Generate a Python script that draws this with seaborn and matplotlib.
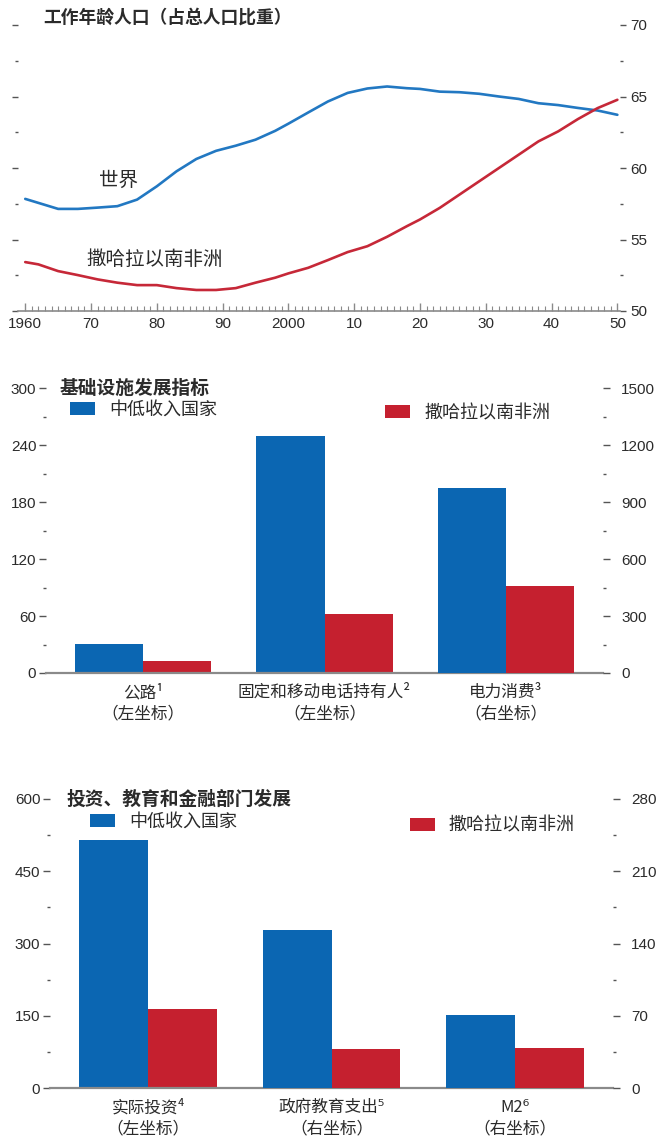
import numpy as np
import pandas as pd
import matplotlib
matplotlib.use("Agg")
import matplotlib.pyplot as plt
import seaborn as sns
from matplotlib import font_manager as fm
from matplotlib.patches import Patch
from matplotlib.ticker import FixedLocator
import matplotlib.transforms as mtransforms

# ---------------- data ----------------
years = [1960, 1962, 1965, 1968, 1971, 1974, 1977, 1980, 1983, 1986, 1989, 1992,
         1995, 1998, 2000, 2003, 2006, 2009, 2012, 2015, 2018, 2020, 2023, 2026,
         2029, 2032, 2035, 2038, 2041, 2044, 2047, 2050]
world = [57.84, 57.56, 57.14, 57.14, 57.23, 57.33, 57.79, 58.72, 59.77, 60.63, 61.2, 61.56,
         61.98, 62.6, 63.1, 63.88, 64.65, 65.25, 65.56, 65.7, 65.58, 65.53, 65.34, 65.3,
         65.19, 65.0, 64.83, 64.53, 64.4, 64.2, 64.02, 63.72]
ssa = [53.42, 53.26, 52.79, 52.51, 52.21, 51.98, 51.81, 51.81, 51.6, 51.47, 51.47, 51.6,
       51.98, 52.33, 52.63, 53.02, 53.56, 54.12, 54.53, 55.19, 55.93, 56.4, 57.21, 58.14,
       59.07, 60.0, 60.93, 61.86, 62.56, 63.42, 64.19, 64.77]
series_names = ["世界", "撒哈拉以南非洲"]
year_ticks = [1960, 1970, 1980, 1990, 2000, 2010, 2020, 2030, 2040, 2050]
year_labels = ["1960", "70", "80", "90", "2000", "10", "20", "30", "40", "50"]

groups = ["中低收入国家", "撒哈拉以南非洲"]

infra_cats = ["公路¹\n（左坐标）", "固定和移动电话持有人²\n（左坐标）", "电力消费³\n（右坐标）"]
infra_lmic = [30.5, 250, 974]
infra_ssa = [12.6, 62, 456]
infra_side = ["left", "left", "right"]

fin_cats = ["实际投资⁴\n（左坐标）", "政府教育支出⁵\n（右坐标）", "M2⁶\n（右坐标）"]
fin_lmic = [515, 153, 70.7]
fin_ssa = [165, 38, 39]
fin_side = ["left", "right", "right"]

# ---------------- style ----------------
sns.set_theme(style="white")
CJK = "Noto Sans CJK SC"


def has_font(name):
    try:
        fm.findfont(fm.FontProperties(family=name), fallback_to_default=False)
        return True
    except Exception:
        return False


NUM = "Liberation Sans Narrow" if has_font("Liberation Sans Narrow") else "Liberation Sans"
plt.rcParams["font.family"] = [CJK, "DejaVu Sans"]
plt.rcParams["axes.unicode_minus"] = False

BLUE = "#0b66b2"
RED = "#c5202f"
LBLUE = "#2278c2"
LRED = "#c62838"
TXT = "#2b2b2b"
TICK = "#555555"
AXL = "#8a8a8a"

fig = plt.figure(figsize=(6.62, 11.42), dpi=100)
W, H = 662.0, 1142.0


def rect(l, r, b, t):
    return [l / W, 1 - b / H, (r - l) / W, (b - t) / H]


# ---------------- top panel: lines ----------------
ax1 = fig.add_axes(rect(18, 620, 311, 25))
df_line = pd.DataFrame({
    "year": years * 2,
    "value": world + ssa,
    "series": [series_names[0]] * len(years) + [series_names[1]] * len(years),
})
sns.lineplot(data=df_line, x="year", y="value", hue="series",
             palette={series_names[0]: LBLUE, series_names[1]: LRED},
             linewidth=1.9, legend=False, ax=ax1)
ax1.set_xlim(1958.9, 2050.4)
ax1.set_ylim(50, 70)
ax1.set_xlabel("")
ax1.set_ylabel("")
for s in ["top", "left", "right"]:
    ax1.spines[s].set_visible(False)
ax1.spines["bottom"].set_color(AXL)
ax1.spines["bottom"].set_linewidth(1.2)
ax1.set_xticks(year_ticks)
ax1.set_xticklabels(year_labels, fontfamily=NUM)
ax1.xaxis.set_minor_locator(FixedLocator(list(range(1960, 2051))))
ax1.tick_params(axis="x", which="major", direction="in", length=6, width=1, color=AXL,
                bottom=True, labelsize=11, labelcolor=TXT, pad=4)
ax1.tick_params(axis="x", which="minor", direction="in", length=3.5, width=0.8, color=AXL, bottom=True)
ax1.set_yticks([50, 55, 60, 65, 70])
ax1.set_yticklabels(["50", "55", "60", "65", "70"], fontfamily=NUM)
ax1.yaxis.set_minor_locator(FixedLocator([52.5, 57.5, 62.5, 67.5]))
ax1.tick_params(axis="y", which="both", left=True, right=True, labelleft=False, labelright=True,
                direction="out", color=TICK)
ax1.tick_params(axis="y", which="major", length=4.5, width=1, labelsize=11, labelcolor=TXT, pad=3)
ax1.tick_params(axis="y", which="minor", length=2, width=1)
ax1.text(1974.2, 59.15, series_names[0], ha="center", va="center", fontsize=14, color=TXT)
ax1.text(1979.6, 53.57, series_names[1], ha="center", va="center", fontsize=14, color=TXT)
fig.text(43 / W, 1 - 18 / H, "工作年龄人口（占总人口比重）", fontsize=12.8, fontweight="bold",
         ha="left", va="center", color=TXT)


# ---------------- bar panels ----------------
def bar_panel(box, cats, lmic, ssa_v, sides, lticks, lminor, rticks, rminor, title, title_x,
              leg_blue, leg_red):
    ax = fig.add_axes(box)
    axr = ax.twinx()
    df = pd.DataFrame({
        "cat": cats * 2,
        "grp": [groups[0]] * 3 + [groups[1]] * 3,
        "val": lmic + ssa_v,
        "side": sides * 2,
    })
    pal = {groups[0]: BLUE, groups[1]: RED}
    sns.barplot(data=df[df["side"] == "left"], x="cat", y="val", hue="grp", order=cats,
                hue_order=groups, palette=pal, width=0.75, errorbar=None, saturation=1,
                legend=False, linewidth=0, ax=ax)
    sns.barplot(data=df[df["side"] == "right"], x="cat", y="val", hue="grp", order=cats,
                hue_order=groups, palette=pal, width=0.75, errorbar=None, saturation=1,
                legend=False, linewidth=0, ax=axr)
    for a in (ax, axr):
        a.set_xlim(-0.534, 2.534)
        a.set_xlabel("")
        a.set_ylabel("")
        for s in ["top", "left", "right", "bottom"]:
            a.spines[s].set_visible(False)
    ax.spines["bottom"].set_visible(True)
    ax.spines["bottom"].set_color(AXL)
    ax.spines["bottom"].set_linewidth(1.6)
    ax.set_ylim(lticks[0], lticks[-1])
    axr.set_ylim(rticks[0], rticks[-1])
    ax.set_yticks(lticks)
    ax.set_yticklabels([str(v) for v in lticks], fontfamily=NUM)
    ax.yaxis.set_minor_locator(FixedLocator(lminor))
    axr.set_yticks(rticks)
    axr.set_yticklabels([str(v) for v in rticks], fontfamily=NUM)
    axr.yaxis.set_minor_locator(FixedLocator(rminor))
    for a in (ax, axr):
        a.tick_params(axis="y", which="major", direction="out", length=5, width=1, color=TICK,
                      labelsize=11, labelcolor=TXT, pad=2)
        a.tick_params(axis="y", which="minor", direction="out", length=2, width=1, color=TICK)
    ax.tick_params(axis="y", which="both", left=True, right=False)
    axr.tick_params(axis="y", which="both", left=False, right=True, pad=8)
    ax.set_xticks([0, 1, 2])
    ax.set_xticklabels(cats, fontsize=12, color=TXT, linespacing=1.3)
    ax.tick_params(axis="x", length=0, pad=8)
    trans = mtransforms.blended_transform_factory(fig.transFigure, ax.transData)
    ax.text(title_x / W, lticks[-1], title, transform=trans, fontsize=13.5, fontweight="bold",
            ha="left", va="center", color=TXT)
    kw = dict(frameon=False, fontsize=13, handlelength=1.4, handleheight=0.7,
              handletextpad=0.75, borderpad=0, borderaxespad=0, loc="center left",
              labelcolor=TXT)
    lg1 = axr.legend(handles=[Patch(facecolor=BLUE, edgecolor="none", label=groups[0])],
                     bbox_to_anchor=leg_blue, bbox_transform=ax.transAxes, **kw)
    axr.add_artist(lg1)
    axr.legend(handles=[Patch(facecolor=RED, edgecolor="none", label=groups[1])],
               bbox_to_anchor=leg_red, bbox_transform=ax.transAxes, **kw)
    return ax, axr


bar_panel(rect(46, 603, 673, 388), infra_cats, infra_lmic, infra_ssa, infra_side,
          [0, 60, 120, 180, 240, 300], [30, 90, 150, 210, 270],
          [0, 300, 600, 900, 1200, 1500], [150, 450, 750, 1050, 1350],
          "基础设施发展指标", 60, (0.043, 0.923), (0.609, 0.912))

bar_panel(rect(50, 613, 1088, 799), fin_cats, fin_lmic, fin_ssa, fin_side,
          [0, 150, 300, 450, 600], [75, 225, 375, 525],
          [0, 70, 140, 210, 280], [35, 105, 175, 245],
          "投资、教育和金融部门发展", 67, (0.071, 0.920), (0.639, 0.907))

fig.savefig("out.png", dpi=100)
